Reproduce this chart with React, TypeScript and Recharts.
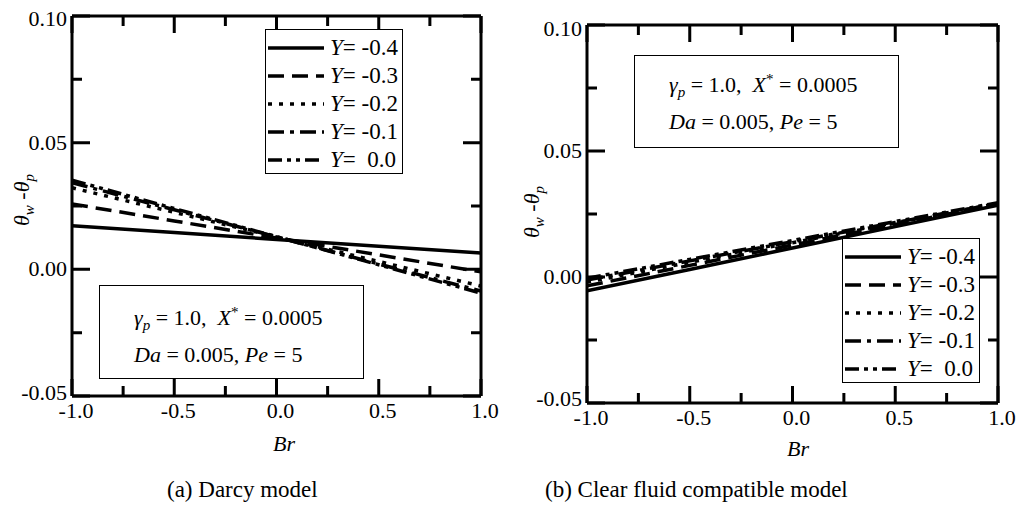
import { LineChart, Line, XAxis, YAxis, Legend } from 'recharts';

// Br values along the x axis
const brPoints = [-1, -0.5, 0, 0.5, 1];

// (a) Darcy model, theta_w - theta_p for each Y
const darcyYm04 = [0.0172, 0.0145, 0.0118, 0.0091, 0.0064];
const darcyYm03 = [0.0258, 0.0191, 0.0124, 0.0057, -0.001];
const darcyYm02 = [0.0322, 0.0225, 0.0128, 0.0031, -0.0066];
const darcyYm01 = [0.0342, 0.0235, 0.0128, 0.0021, -0.0086];
const darcyY00 = [0.0352, 0.024, 0.0129, 0.0018, -0.0094];

// (b) Clear fluid compatible model
const clearYm04 = [-0.0055, 0.003, 0.0115, 0.02, 0.0285];
const clearYm03 = [-0.0035, 0.0046, 0.0127, 0.0208, 0.0289];
const clearYm02 = [-0.002, 0.0058, 0.0136, 0.0214, 0.0292];
const clearYm01 = [-0.0012, 0.0064, 0.014, 0.0216, 0.0292];
const clearY00 = [-0.0005, 0.007, 0.0145, 0.022, 0.0295];

const yLevels = ['-0.4', '-0.3', '-0.2', '-0.1', ' 0.0'];
const xTicks = [-1, -0.75, -0.5, -0.25, 0, 0.25, 0.5, 0.75, 1];
const yTicks = [-0.05, -0.025, 0, 0.025, 0.05, 0.075, 0.1];

const FONT = '"Liberation Serif", "Times New Roman", serif';
const dashes = ['', '16 8', '4 7', '16 6 4 6', '14 5 4 5 4 5'];
const keys = ['s0', 's1', 's2', 's3', 's4'];

const isMajor = (v: number, step: number) => Math.abs(v / step - Math.round(v / step)) < 1e-6;

function buildRows(series: number[][]) {
    return brPoints.map((br, i) => {
        const row: any = { br };
        series.forEach((s, k) => { row[keys[k]] = s[i]; });
        return row;
    });
}

const darcyData = buildRows([darcyYm04, darcyYm03, darcyYm02, darcyYm01, darcyY00]);
const clearData = buildRows([clearYm04, clearYm03, clearYm02, clearYm01, clearY00]);

const TICK_W = 3;
const labelStyle = { fontFamily: FONT, fontSize: 22 };
const yMin = yTicks[0];
const yMax = yTicks[yTicks.length - 1];

// ticks point inward on all four sides; the bottom/left axis ticks also draw
// their mirrored twin on the top/right edge of the frame
function BottomTick({ x, y, payload, plotH }: any) {
    const major = isMajor(payload.value, 0.5);
    const len = major ? 17 : 10;
    return (
        <g>
            <path d={`M${x},${y}V${y - len}M${x},${y - plotH}V${y - plotH + len}`} stroke="#000" strokeWidth={TICK_W} fill="none" />
            {major && (
                <text x={x + 4} y={y + 22} textAnchor="middle" style={labelStyle} fill="#000">
                    {payload.value.toFixed(1)}
                </text>
            )}
        </g>
    );
}

function LeftTick({ x, y, payload, plotW, endShift }: any) {
    const v = payload.value;
    const major = isMajor(v, 0.05);
    const len = major ? 18 : 10;
    // end labels sit a little inside the frame, as in the original figure
    const dy = Math.abs(v - yMax) < 1e-9 ? 7 + endShift : Math.abs(v - yMin) < 1e-9 ? 7 - endShift : 7;
    return (
        <g>
            <path d={`M${x},${y}H${x + len}M${x + plotW},${y}H${x + plotW - len}`} stroke="#000" strokeWidth={TICK_W} fill="none" />
            {major && (
                <text x={x - 5} y={y + dy} textAnchor="end" style={labelStyle} fill="#000">
                    {v.toFixed(2)}
                </text>
            )}
        </g>
    );
}

function LegendBox() {
    return (
        <div style={{
            width: 138, height: 145, boxSizing: 'border-box', border: '1px solid #000',
            background: '#fff', paddingTop: 4, fontFamily: FONT, fontSize: 23, color: '#000'
        }}>
            {yLevels.map((lvl, i) => (
                <div key={lvl} style={{ height: 28, display: 'flex', alignItems: 'center' }}>
                    <svg width={56} height={6} style={{ marginLeft: 2 }}>
                        <line x1={0} y1={3} x2={56} y2={3} stroke="#000" strokeWidth={3.5} strokeDasharray={dashes[i] || undefined} />
                    </svg>
                    <span style={{ marginLeft: 6, whiteSpace: 'pre', lineHeight: '28px' }}>
                        <i>Y</i>= {lvl}
                    </span>
                </div>
            ))}
        </div>
    );
}

const small = { fontSize: 15, lineHeight: 0 };

function ParamBox({ left, top, width, height, padTop }: any) {
    return (
        <div style={{
            position: 'absolute', left, top, width, height, boxSizing: 'border-box',
            border: '1px solid #000', background: '#fff', fontFamily: FONT, fontSize: 22,
            color: '#000', paddingLeft: 34, paddingTop: padTop, whiteSpace: 'pre'
        }}>
            <div style={{ height: 37, lineHeight: '37px' }}>
                <i>γ</i><sub style={small}><i>p</i></sub> = 1.0,  <i>X</i><sup style={small}>*</sup> = 0.0005
            </div>
            <div style={{ height: 37, lineHeight: '37px' }}><i>Da</i> = 0.005, <i>Pe</i> = 5</div>
        </div>
    );
}

function YLabel({ cx, cy }: any) {
    return (
        <div style={{
            position: 'absolute', left: cx, top: cy, transform: 'translate(-50%, -50%) rotate(-90deg)',
            fontFamily: FONT, fontSize: 22, whiteSpace: 'nowrap', color: '#000', lineHeight: '26px'
        }}>
            <i>θ</i><sub style={small}><i>w</i></sub> -<i>θ</i><sub style={small}><i>p</i></sub>
        </div>
    );
}

function Text({ left, top, children, size = 22 }: any) {
    return (
        <div style={{ position: 'absolute', left, top, fontFamily: FONT, fontSize: size, whiteSpace: 'pre', color: '#000' }}>
            {children}
        </div>
    );
}

function Panel({ data, width, top, bottom, left, legendPos, endShift }: any) {
    const right = 19;
    const plotW = width - left - right;
    const plotH = 506 - top - bottom;
    return (
        <LineChart width={width} height={506} data={data} margin={{ top: 0, right: 0, bottom: 0, left: 0 }}>
            <XAxis dataKey="br" type="number" domain={[-1, 1]} ticks={xTicks} interval={0} height={bottom}
                tickSize={0} tickMargin={0} tickLine={false}
                tick={(p: any) => <BottomTick {...p} plotH={plotH} />}
                axisLine={{ stroke: '#000', strokeWidth: 3 }} allowDataOverflow />
            <XAxis xAxisId="top" orientation="top" type="number" domain={[-1, 1]} height={top}
                tick={false} tickLine={false} axisLine={{ stroke: '#000', strokeWidth: 3 }} allowDataOverflow />
            <YAxis type="number" domain={[yMin, yMax]} ticks={yTicks} interval={0} width={left}
                tickSize={0} tickMargin={0} tickLine={false}
                tick={(p: any) => <LeftTick {...p} plotW={plotW} endShift={endShift} />}
                axisLine={{ stroke: '#000', strokeWidth: 3 }} allowDataOverflow />
            <YAxis yAxisId="right" orientation="right" type="number" domain={[yMin, yMax]} width={right}
                tick={false} tickLine={false} axisLine={{ stroke: '#000', strokeWidth: 3 }} allowDataOverflow />
            <Legend layout="vertical" align="center" verticalAlign="middle"
                wrapperStyle={{ left: legendPos[0], top: legendPos[1], width: 138 }}
                content={() => <LegendBox />} />
            {keys.map((k, i) => (
                <Line key={k} dataKey={k} name={`Y= ${yLevels[i]}`} type="linear" stroke="#000" strokeWidth={3.5}
                    strokeDasharray={dashes[i] || undefined} dot={false} activeDot={false} isAnimationActive={false} />
            ))}
        </LineChart>
    );
}

export default function App() {
    return (
        <div style={{ position: 'absolute', left: 0, top: 0, width: 1017, height: 506, background: '#fff', overflow: 'hidden' }}>
            <div style={{ position: 'absolute', left: 0, top: 0 }}>
                <Panel data={darcyData} width={500} top={16} bottom={110} left={72} legendPos={[265, 29]} endShift={3} />
            </div>
            <div style={{ position: 'absolute', left: 500, top: 0 }}>
                <Panel data={clearData} width={517} top={25} bottom={103} left={87} legendPos={[342, 238]} endShift={4} />
            </div>
            <ParamBox left={99} top={285} width={265} height={94} padTop={13} />
            <ParamBox left={634} top={55} width={265} height={93} padTop={10} />
            <YLabel cx={22} cy={200} />
            <YLabel cx={532} cy={212} />
            <Text left={273} top={431}><i>Br</i></Text>
            <Text left={787} top={436}><i>Br</i></Text>
            <Text left={167} top={477} size={23}>(a) Darcy model</Text>
            <Text left={545} top={477} size={23}>(b) Clear fluid compatible model</Text>
        </div>
    );
}
